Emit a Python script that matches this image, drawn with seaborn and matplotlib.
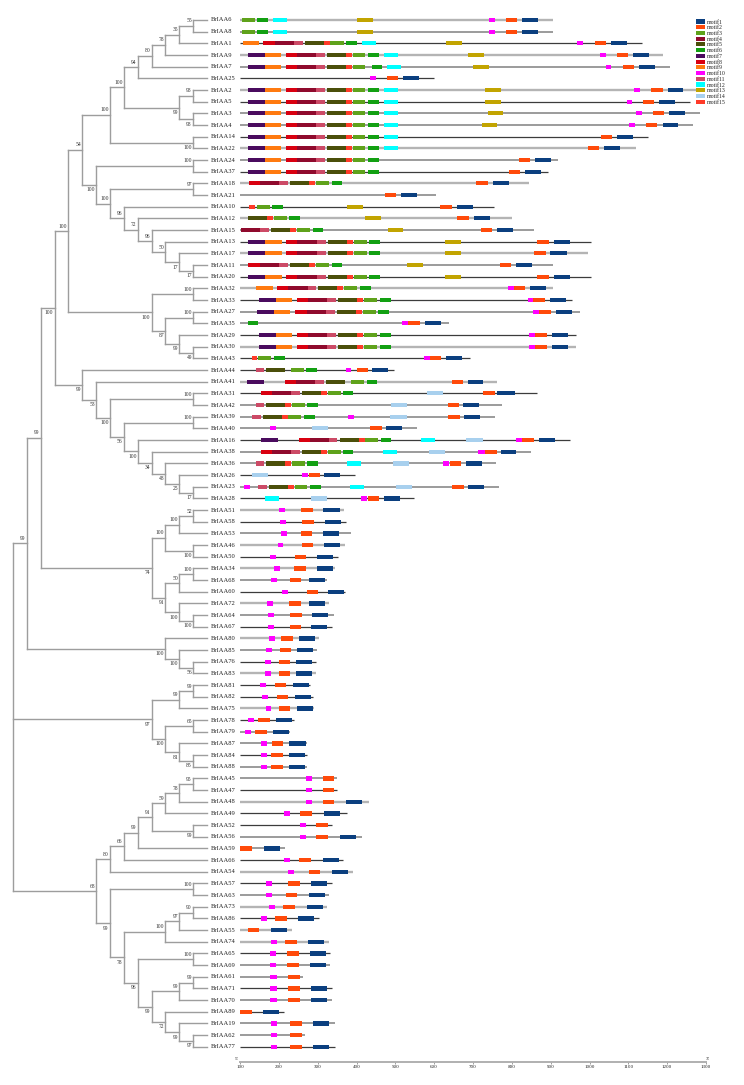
import matplotlib
matplotlib.use("Agg")
import matplotlib.pyplot as plt
from matplotlib.patches import Patch
import seaborn as sns

sns.set_theme(style="white")
plt.rcParams['font.family'] = ['Liberation Serif', 'DejaVu Serif']

# ---------------- tree (Newick-like; ^ = support drawn above node, _ = below) -------------
clade_a = "((((((6,8)^55,1)^35,9)^78,7)^80,25)^94,((2,5)^98,(3,4)_98)_99)^100"
clade_b = "(" + clade_a + ",(14,22)_100)^100"
clade_c = "((24,37)^100,((18,21)^97,(10,(12,(15,(13,(17,(11,20)_17)_17)^50)^96)^72)^96)^100)_100"
clade_d = "((32,33)^100,((27,35)^100,(29,(30,43)_49)_99)_87)_100"
clade_e = "(44,(41,((31,42)^100,((39,40)^100,(16,(38,(36,(26,(23,28)_17)_25)_48)_34)_100)_56)_100)_53)_99"
clade_f = "((((51,58)^52,53)^100,(46,50)_100)^100,(((34,68)^100,60)^50,(72,(64,67)_100)_100)_91)_74"
clade_g = "(80,(85,(76,83)_56)_100)_100"
clade_h = "(((81,82)^99,75)^99,((78,79)^65,(87,(84,88)_85)_81)_100)_97"
clade_i = "(((((((45,47)^95,48)^78,49)^59,(52,56)_99)^91,59)^99,66)^66,54)^80"
clade_j = ("((57,63)^100,((((73,86)^90,55)^97,74)^100,((65,69)^100,(((61,71)^99,70)^99,"
           "(89,(19,(62,77)_97)_99)_72)_99)_96)_78)_99")
tree_newick = ("((((((" + clade_b + "," + clade_c + ")^54," + clade_d + ")^100," + clade_e + ")_100,"
               + clade_f + ")^99," + clade_g + ")^99," + clade_h + ",(" + clade_i + "," + clade_j + ")^68)")

# ---------------- gene lengths (axis units, line starts at 100) ----------------
gene_end = {
    "BrIAA6": 907, "BrIAA8": 907, "BrIAA1": 1134, "BrIAA9": 1190, "BrIAA7": 1207, "BrIAA25": 600,
    "BrIAA2": 1276, "BrIAA5": 1259, "BrIAA3": 1284, "BrIAA4": 1267, "BrIAA14": 1150, "BrIAA22": 1119,
    "BrIAA24": 918, "BrIAA37": 892, "BrIAA18": 844, "BrIAA21": 605, "BrIAA10": 754, "BrIAA12": 800,
    "BrIAA15": 858, "BrIAA13": 1004, "BrIAA17": 995, "BrIAA11": 907, "BrIAA20": 1004, "BrIAA32": 907,
    "BrIAA33": 956, "BrIAA27": 975, "BrIAA35": 639, "BrIAA29": 965, "BrIAA30": 965, "BrIAA43": 692,
    "BrIAA44": 497, "BrIAA41": 761, "BrIAA31": 866, "BrIAA42": 775, "BrIAA39": 756, "BrIAA40": 555,
    "BrIAA16": 950, "BrIAA38": 850, "BrIAA36": 759, "BrIAA26": 396, "BrIAA23": 768, "BrIAA28": 549,
    "BrIAA51": 369, "BrIAA58": 372, "BrIAA53": 386, "BrIAA46": 370, "BrIAA50": 353, "BrIAA34": 345,
    "BrIAA68": 324, "BrIAA60": 370, "BrIAA72": 328, "BrIAA64": 343, "BrIAA67": 337, "BrIAA80": 303,
    "BrIAA85": 297, "BrIAA76": 295, "BrIAA83": 295, "BrIAA81": 280, "BrIAA82": 287, "BrIAA75": 291,
    "BrIAA78": 239, "BrIAA79": 230, "BrIAA87": 272, "BrIAA84": 272, "BrIAA88": 272, "BrIAA45": 351,
    "BrIAA47": 351, "BrIAA48": 432, "BrIAA49": 375, "BrIAA52": 336, "BrIAA56": 413, "BrIAA59": 217,
    "BrIAA66": 366, "BrIAA54": 390, "BrIAA57": 336, "BrIAA63": 330, "BrIAA73": 323, "BrIAA86": 303,
    "BrIAA55": 233, "BrIAA74": 328, "BrIAA65": 333, "BrIAA69": 333, "BrIAA61": 261, "BrIAA71": 338,
    "BrIAA70": 338, "BrIAA89": 214, "BrIAA19": 345, "BrIAA62": 267, "BrIAA77": 345,
}

# line shade per gene (0 light, 1 medium, 2 dark)
line_shade = {
    "BrIAA6": 0, "BrIAA8": 1, "BrIAA1": 2, "BrIAA9": 0, "BrIAA7": 1, "BrIAA25": 2, "BrIAA2": 0,
    "BrIAA5": 2, "BrIAA3": 1, "BrIAA4": 1, "BrIAA14": 2, "BrIAA22": 0, "BrIAA24": 1, "BrIAA37": 2,
    "BrIAA18": 0, "BrIAA21": 1, "BrIAA10": 2, "BrIAA12": 0, "BrIAA15": 1, "BrIAA13": 2, "BrIAA17": 0,
    "BrIAA11": 1, "BrIAA20": 2, "BrIAA32": 0, "BrIAA33": 2, "BrIAA27": 1, "BrIAA35": 1, "BrIAA29": 2,
    "BrIAA30": 0, "BrIAA43": 2, "BrIAA44": 2, "BrIAA41": 0, "BrIAA31": 2, "BrIAA42": 1, "BrIAA39": 1,
    "BrIAA40": 1, "BrIAA16": 2, "BrIAA38": 1, "BrIAA36": 1, "BrIAA26": 2, "BrIAA23": 1, "BrIAA28": 2,
    "BrIAA51": 0, "BrIAA58": 2, "BrIAA53": 1, "BrIAA46": 0, "BrIAA50": 2, "BrIAA34": 0, "BrIAA68": 1,
    "BrIAA60": 2, "BrIAA72": 0, "BrIAA64": 1, "BrIAA67": 2, "BrIAA80": 0, "BrIAA85": 1, "BrIAA76": 2,
    "BrIAA83": 0, "BrIAA81": 2, "BrIAA82": 2, "BrIAA75": 0, "BrIAA78": 2, "BrIAA79": 1, "BrIAA87": 1,
    "BrIAA84": 2, "BrIAA88": 1, "BrIAA45": 1, "BrIAA47": 2, "BrIAA48": 0, "BrIAA49": 2, "BrIAA52": 2,
    "BrIAA56": 1, "BrIAA59": 1, "BrIAA66": 2, "BrIAA54": 0, "BrIAA57": 2, "BrIAA63": 1, "BrIAA73": 0,
    "BrIAA86": 2, "BrIAA55": 0, "BrIAA74": 0, "BrIAA65": 2, "BrIAA69": 1, "BrIAA61": 1, "BrIAA71": 2,
    "BrIAA70": 1, "BrIAA89": 2, "BrIAA19": 1, "BrIAA62": 1, "BrIAA77": 2,
}

# ---------------- motifs ----------------
motif_names = [f"motif{i}" for i in range(1, 16)]
motif_colors = ["#0b3f7f", "#ff4a0a", "#5fa21b", "#8f0a2d", "#4b4f0a", "#12a012", "#4a0b5e",
                "#d90010", "#ff7a10", "#ff00ff", "#cc4a66", "#00ffff", "#c2a400", "#a8d0ee", "#ff3a28"]

core_a = [(7, 121, 164), (9, 164, 206), (8, 218, 248), (4, 248, 296), (11, 296, 319), (5, 324, 373),
          (15, 373, 389), (3, 391, 423), (6, 430, 458), (12, 471, 507)]
core_b = [(7, 121, 164), (9, 164, 208), (8, 219, 248), (4, 248, 299), (11, 299, 321), (5, 326, 376),
          (15, 376, 392), (3, 393, 427), (6, 433, 460)]
core_c = [(7, 149, 193), (9, 193, 235), (8, 246, 276), (4, 276, 325), (11, 325, 347), (5, 352, 402),
          (15, 402, 417), (3, 419, 454), (6, 460, 488)]
iaa6_sites = [(3, 104, 139), (6, 145, 172), (12, 186, 222), (13, 402, 443), (10, 741, 756),
              (2, 785, 814), (1, 827, 868)]

domain_hits = {
    "BrIAA6": iaa6_sites,
    "BrIAA8": iaa6_sites,
    "BrIAA1": [(9, 107, 149), (8, 160, 190), (4, 190, 239), (11, 239, 261), (5, 267, 316), (15, 316, 332),
               (3, 333, 368), (6, 373, 400), (12, 413, 450), (13, 630, 671), (10, 969, 984),
               (2, 1014, 1042), (1, 1055, 1096)],
    "BrIAA9": core_a + [(13, 688, 728), (10, 1027, 1042), (2, 1070, 1099), (1, 1112, 1153)],
    "BrIAA7": core_a[:8] + [(6, 439, 466), (12, 478, 515), (13, 700, 741), (10, 1042, 1055),
                            (2, 1085, 1114), (1, 1127, 1168)],
    "BrIAA25": [(10, 435, 449), (2, 478, 507), (1, 520, 561)],
    "BrIAA2": core_a + [(13, 731, 771), (10, 1115, 1131), (2, 1158, 1188), (1, 1201, 1242)],
    "BrIAA5": core_a + [(13, 731, 771), (10, 1096, 1110), (2, 1138, 1167), (1, 1180, 1221)],
    "BrIAA3": core_a + [(13, 739, 778), (10, 1119, 1134), (2, 1164, 1192), (1, 1205, 1246)],
    "BrIAA4": core_a + [(13, 722, 762), (10, 1102, 1117), (2, 1145, 1175), (1, 1188, 1229)],
    "BrIAA14": core_a + [(2, 1029, 1058), (1, 1070, 1111)],
    "BrIAA22": core_a + [(2, 996, 1025), (1, 1037, 1078)],
    "BrIAA24": core_a[:9] + [(2, 818, 847), (1, 860, 901)],
    "BrIAA37": core_a[:9] + [(2, 792, 821), (1, 834, 875)],
    "BrIAA18": [(8, 122, 152), (4, 152, 201), (11, 201, 223), (5, 229, 278), (15, 278, 293), (3, 296, 329),
                (6, 336, 363), (2, 709, 739), (1, 752, 792)],
    "BrIAA21": [(2, 473, 503), (1, 514, 556)],
    "BrIAA10": [(15, 124, 139), (3, 143, 176), (6, 182, 210), (13, 376, 417), (2, 615, 645), (1, 658, 699)],
    "BrIAA12": [(5, 121, 169), (15, 169, 186), (3, 188, 220), (6, 227, 254), (13, 422, 463),
                (2, 660, 689), (1, 702, 744)],
    "BrIAA15": [(4, 102, 152), (11, 152, 175), (5, 179, 229), (15, 229, 244), (3, 246, 280), (6, 287, 315),
                (13, 480, 521), (2, 720, 749), (1, 761, 802)],
    "BrIAA13": core_b + [(13, 628, 669), (2, 866, 896), (1, 908, 950)],
    "BrIAA17": core_b + [(13, 628, 669), (2, 857, 887), (1, 899, 941)],
    "BrIAA11": [(8, 121, 152), (4, 152, 200), (11, 200, 223), (5, 229, 278), (15, 278, 293), (3, 296, 329),
                (6, 336, 363), (13, 529, 570), (2, 769, 797), (1, 811, 852)],
    "BrIAA20": core_b + [(13, 628, 669), (2, 866, 896), (1, 908, 950)],
    "BrIAA32": [(9, 141, 184), (8, 196, 224), (4, 224, 274), (11, 274, 296), (5, 302, 351), (15, 351, 366),
                (3, 369, 402), (6, 409, 437), (10, 791, 805), (2, 805, 835), (1, 847, 888)],
    "BrIAA33": core_c + [(10, 841, 855), (2, 855, 885), (1, 898, 939)],
    "BrIAA27": [(7, 145, 188), (9, 188, 230), (8, 242, 272), (4, 272, 321), (11, 321, 345), (5, 349, 399),
                (15, 399, 414), (3, 416, 449), (6, 456, 484), (10, 855, 870), (2, 870, 900), (1, 913, 954)],
    "BrIAA35": [(6, 121, 147), (10, 518, 533), (2, 533, 563), (1, 576, 617)],
    "BrIAA29": core_c + [(10, 845, 860), (2, 860, 891), (1, 904, 945)],
    "BrIAA30": core_c + [(10, 845, 860), (2, 860, 891), (1, 904, 945)],
    "BrIAA43": [(15, 130, 145), (3, 147, 180), (6, 188, 216), (10, 574, 589), (2, 589, 617), (1, 630, 672)],
    "BrIAA44": [(11, 141, 162), (5, 167, 216), (3, 232, 265), (6, 270, 297), (10, 373, 387),
                (2, 400, 429), (1, 441, 480)],
    "BrIAA41": [(7, 119, 162), (8, 216, 244), (4, 244, 293), (11, 293, 316), (5, 321, 370), (3, 387, 420),
                (6, 426, 454), (2, 645, 673), (1, 686, 727)],
    "BrIAA31": [(8, 153, 183), (4, 183, 231), (11, 231, 254), (5, 259, 308), (15, 308, 323), (3, 326, 359),
                (6, 364, 392), (14, 582, 622), (2, 726, 756), (1, 762, 808)],
    "BrIAA42": [(11, 141, 162), (5, 167, 216), (15, 216, 231), (3, 233, 267), (6, 273, 300),
                (14, 489, 530), (2, 635, 664), (1, 675, 716)],
    "BrIAA39": [(11, 132, 153), (5, 158, 207), (15, 207, 223), (3, 224, 258), (6, 265, 292), (10, 379, 394),
                (14, 486, 529), (2, 636, 666), (1, 677, 718)],
    "BrIAA40": [(10, 177, 193), (14, 286, 327), (2, 435, 465), (1, 476, 517)],
    "BrIAA16": [(7, 154, 197), (8, 251, 280), (4, 280, 329), (11, 329, 351), (5, 357, 406), (15, 406, 422),
                (3, 423, 456), (6, 463, 490), (12, 566, 602), (14, 683, 725), (10, 812, 827),
                (2, 827, 857), (1, 871, 912)],
    "BrIAA38": [(8, 153, 183), (4, 183, 231), (11, 231, 254), (5, 259, 308), (15, 308, 323), (3, 326, 359),
                (6, 364, 392), (12, 467, 504), (14, 586, 628), (10, 714, 730), (2, 732, 761), (1, 772, 812)],
    "BrIAA36": [(11, 141, 162), (5, 167, 216), (15, 216, 231), (3, 233, 267), (6, 273, 300), (12, 376, 412),
                (14, 495, 536), (10, 623, 638), (2, 641, 669), (1, 682, 722)],
    "BrIAA26": [(14, 130, 171), (10, 259, 274), (2, 277, 306), (1, 317, 358)],
    "BrIAA23": [(10, 110, 126), (11, 147, 169), (5, 174, 223), (15, 223, 239), (3, 242, 273), (6, 280, 308),
                (12, 383, 419), (14, 502, 543), (2, 647, 676), (1, 688, 728)],
    "BrIAA28": [(12, 164, 201), (14, 283, 324), (10, 411, 426), (2, 429, 458), (1, 471, 512)],
}

# short genes: (motif10, motif2, motif1) spans
short_hits = {
    "BrIAA51": ((200, 216), (257, 287), (315, 357)), "BrIAA58": ((203, 218), (260, 290), (319, 359)),
    "BrIAA53": ((206, 220), (257, 286), (315, 356)), "BrIAA46": ((198, 212), (259, 288), (316, 357)),
    "BrIAA50": ((178, 193), (242, 271), (299, 340)), "BrIAA34": ((188, 203), (240, 270), (297, 339)),
    "BrIAA68": ((181, 196), (228, 257), (278, 320)), "BrIAA60": ((208, 223), (272, 301), (327, 369)),
    "BrIAA72": ((169, 184), (227, 256), (278, 320)), "BrIAA64": ((172, 188), (230, 260), (285, 327)),
    "BrIAA67": ((172, 188), (229, 257), (282, 323)), "BrIAA80": ((174, 189), (206, 236), (252, 293)),
    "BrIAA85": ((168, 183), (203, 232), (247, 289)), "BrIAA76": ((165, 180), (200, 229), (244, 285)),
    "BrIAA83": ((165, 180), (200, 229), (244, 285)), "BrIAA81": ((152, 168), (190, 218), (236, 277)),
    "BrIAA82": ((157, 173), (196, 224), (242, 283)), "BrIAA75": ((166, 181), (201, 230), (247, 289)),
    "BrIAA78": ((121, 136), (147, 177), (193, 235)), "BrIAA79": ((114, 128), (139, 169), (185, 227)),
    "BrIAA87": ((155, 170), (182, 211), (227, 269)), "BrIAA84": ((155, 170), (181, 210), (226, 268)),
    "BrIAA88": ((155, 170), (181, 210), (226, 268)), "BrIAA45": ((270, 285), (313, 341), None),
    "BrIAA47": ((270, 285), (313, 341), None), "BrIAA48": ((270, 285), (313, 341), (373, 414)),
    "BrIAA49": ((214, 229), (255, 285), (316, 357)), "BrIAA52": ((254, 270), (296, 326), None),
    "BrIAA56": ((254, 270), (296, 326), (357, 399)), "BrIAA59": (None, (100, 130), (162, 203)),
    "BrIAA66": ((214, 229), (251, 282), (314, 355)), "BrIAA54": ((224, 239), (277, 306), (337, 378)),
    "BrIAA57": ((168, 183), (224, 254), (283, 324)), "BrIAA63": ((168, 183), (219, 248), (278, 320)),
    "BrIAA73": ((175, 190), (212, 241), (272, 313)), "BrIAA86": ((154, 170), (190, 220), (250, 291)),
    "BrIAA55": (None, (121, 150), (180, 221)), "BrIAA74": ((180, 195), (216, 246), (276, 317)),
    "BrIAA65": ((177, 193), (221, 251), (280, 321)), "BrIAA69": ((177, 193), (221, 251), (280, 321)),
    "BrIAA61": ((177, 194), (224, 254), None), "BrIAA71": ((177, 194), (224, 254), (283, 324)),
    "BrIAA70": ((177, 194), (224, 254), (283, 324)), "BrIAA89": (None, (100, 130), (159, 200)),
    "BrIAA19": ((180, 195), (229, 259), (288, 329)), "BrIAA62": ((180, 195), (229, 259), None),
    "BrIAA77": ((180, 195), (229, 259), (288, 329)),
}
axis_ticks = list(range(100, 1301, 100))

# ---------------- parse tree ----------------
def parse_newick(s):
    pos = 0

    def node():
        nonlocal pos
        if s[pos] == '(':
            pos += 1
            kids = [node()]
            while s[pos] == ',':
                pos += 1
                kids.append(node())
            pos += 1  # ')'
            sup, side = None, None
            if pos < len(s) and s[pos] in '^_':
                side = s[pos]
                pos += 1
                st = pos
                while pos < len(s) and s[pos].isdigit():
                    pos += 1
                sup = s[st:pos]
            return {"children": kids, "support": sup, "side": side}
        st = pos
        while s[pos].isdigit():
            pos += 1
        return {"name": "BrIAA" + s[st:pos]}
    return node()


root = parse_newick(tree_newick)
leaves = []


def layout(n):
    if "name" in n:
        n["y"] = len(leaves)
        n["h"] = 0
        leaves.append(n["name"])
        return
    for c in n["children"]:
        layout(c)
    n["h"] = max(c["h"] for c in n["children"]) + 1
    n["y"] = (n["children"][0]["y"] + n["children"][-1]["y"]) / 2


layout(root)
n_rows = len(leaves)
root_h = root["h"]

# ---------------- figure ----------------
W, H = 744, 1085
fig = plt.figure(figsize=(W / 100, H / 100), dpi=100)
y_top_px, y_bot_px = 8.33, 1062.0
ylim = (89.3, -1)
ax_t = fig.add_axes([13 / W, 1 - y_bot_px / H, (207 - 13) / W, (y_bot_px - y_top_px) / H])
ax_m = fig.add_axes([240 / W, 1 - y_bot_px / H, (706 - 240) / W, (y_bot_px - y_top_px) / H])
for a in (ax_t, ax_m):
    a.set_ylim(*ylim)
    a.set_facecolor("none")
ax_t.set_xlim(root_h, 0)
ax_t.axis("off")

tree_col = "#9d9d9d"
px_per_h = (207 - 13) / root_h


def draw(n):
    if "name" in n:
        return
    kids = n["children"]
    ax_t.plot([n["h"], n["h"]], [kids[0]["y"], kids[-1]["y"]], color=tree_col, lw=1.0,
              solid_capstyle="projecting", clip_on=False)
    for c in kids:
        ax_t.plot([n["h"], c["h"]], [c["y"], c["y"]], color=tree_col, lw=1.0,
                  solid_capstyle="projecting", clip_on=False)
        draw(c)
    if n["support"]:
        dy = -0.42 if n["side"] == '^' else 0.42
        ax_t.text(n["h"] + 1.2 / px_per_h, n["y"] + dy, n["support"], ha="right", va="center",
                  fontsize=4.0, color="#333333")


draw(root)
for i, g in enumerate(leaves):
    ax_t.text(-4 / px_per_h, i, g, ha="left", va="center", fontsize=4.7, color="#222222", clip_on=False)

# ---------------- motif panel ----------------
shade_col = ["#b4b4b4", "#8a8a8a", "#3c3c3c"]
shade_lw = [1.7, 1.2, 0.9]
for i, g in enumerate(leaves):
    s = line_shade[g]
    ax_m.hlines(i, 100, gene_end[g], color=shade_col[s], lw=shade_lw[s], zorder=1)
    if g in domain_hits:
        hits = domain_hits[g]
    else:
        hits = [(m, span[0], span[1]) for m, span in zip((10, 2, 1), short_hits[g]) if span]
    for m, st, en in hits:
        ax_m.barh(i, en - st, left=st, height=0.36, color=motif_colors[m - 1], linewidth=0, zorder=2)

ax_m.set_xlim(100, 1300)
ax_m.set_xticks(axis_ticks)
ax_m.set_xticklabels([str(t) for t in axis_ticks], fontsize=3.6, color="#222222")
ax_m.set_yticks([])
ax_m.tick_params(axis="x", length=1.5, width=0.5, pad=1.0, color="#777777", bottom=True)
sns.despine(ax=ax_m, left=True, top=True, right=True)
ax_m.spines["bottom"].set_color("#b0b0b0")
ax_m.spines["bottom"].set_linewidth(1.4)
ax_m.annotate("5'", xy=(100, ylim[0]), xytext=(-1, 0.5), textcoords="offset points",
              ha="right", va="bottom", fontsize=3.8, color="#222222", annotation_clip=False)
ax_m.annotate("3'", xy=(1300, ylim[0]), xytext=(-0.5, 0.5), textcoords="offset points",
              ha="left", va="bottom", fontsize=3.8, color="#222222", annotation_clip=False)

handles = [Patch(facecolor=c, edgecolor="none", label=n) for n, c in zip(motif_names, motif_colors)]
ax_m.legend(handles=handles, loc="upper left", bbox_to_anchor=(696 / W, 1 - 19.5 / H),
            bbox_transform=fig.transFigure, fontsize=4.2, frameon=False, handlelength=1.55,
            handleheight=0.7, handletextpad=0.35, labelspacing=0.11, borderpad=0, borderaxespad=0)

fig.savefig("out.png", dpi=100)
